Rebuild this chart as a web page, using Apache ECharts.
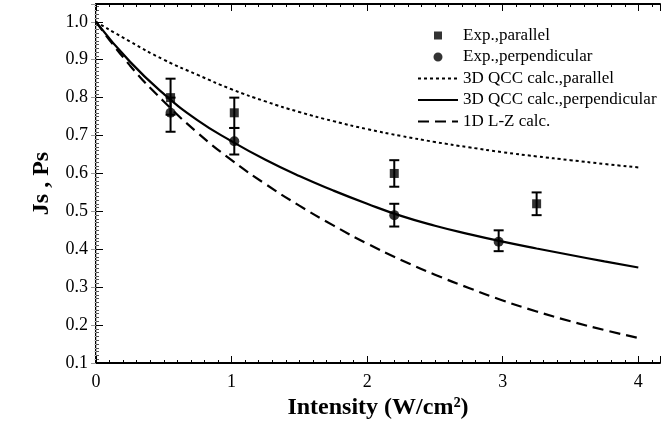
<!DOCTYPE html>
<html><head><meta charset="utf-8">
<script src="https://cdn.jsdelivr.net/npm/echarts@6/dist/echarts.min.js"></script>
<style>html,body{margin:0;padding:0;background:#fff}#c{width:663px;height:435px}</style>
</head><body><div id="c"></div>
<script>
// ---- data ----
const xTicks = [0, 1, 2, 3, 4];
const yTicks = [0.1, 0.2, 0.3, 0.4, 0.5, 0.6, 0.7, 0.8, 0.9, 1.0];
const parX = [0.55, 1.02, 2.2, 3.25];
const parY = [0.80, 0.76, 0.60, 0.52];
const parLo = [0.755, 0.72, 0.565, 0.49];
const parHi = [0.85, 0.80, 0.635, 0.55];
const perpX = [0.55, 1.02, 2.2, 2.97];
const perpY = [0.76, 0.685, 0.49, 0.42];
const perpLo = [0.71, 0.65, 0.46, 0.395];
const perpHi = [0.80, 0.72, 0.52, 0.45];
const curveX = [0, 0.25, 0.5, 0.75, 1, 1.25, 1.5, 1.75, 2, 2.25, 2.5, 2.75, 3, 3.25, 3.5, 3.75, 4];
const qccPar = [1.0, 0.948, 0.9, 0.86, 0.822, 0.79, 0.762, 0.738, 0.717, 0.699, 0.683, 0.669, 0.656, 0.645, 0.635, 0.625, 0.616];
const qccPerp = [1.0, 0.895, 0.81, 0.74, 0.685, 0.636, 0.593, 0.555, 0.52, 0.488, 0.462, 0.44, 0.42, 0.402, 0.385, 0.368, 0.352];
const lz1d = [1.0, 0.885, 0.79, 0.707, 0.635, 0.572, 0.515, 0.463, 0.415, 0.372, 0.333, 0.298, 0.265, 0.236, 0.21, 0.187, 0.166];
const names = ['Exp.,parallel', 'Exp.,perpendicular', '3D QCC calc.,parallel', '3D QCC calc.,perpendicular', '1D L-Z calc.'];

const FONT = 'Liberation Serif, Times New Roman, serif';
const zip = (a, b) => a.map((v, i) => [v, b[i]]);
const zip3 = (a, b, c) => a.map((v, i) => [v, b[i], c[i]]);
const isTick = (v, arr) => arr.some(t => Math.abs(t - v) < 1e-6);

// legend icon paths: tiny corner dots fix the 40x14 box, the mark sits inside
const BOX = 'M0,0h0.01v0.01h-0.01z M40,14h-0.01v-0.01h0.01z ';
const ICON_SQ = 'path://' + BOX + 'M16,3h8v8h-8z';
const ICON_CI = 'path://' + BOX + 'M15.5,7a4.5,4.5 0 1,0 9,0a4.5,4.5 0 1,0 -9,0z';

function errRender(params, api) {
  const x = api.value(0), lo = api.value(1), hi = api.value(2);
  const p1 = api.coord([x, lo]), p2 = api.coord([x, hi]);
  const w = 5;
  const st = { stroke: '#000', lineWidth: 2 };
  return { type: 'group', children: [
    { type: 'line', shape: { x1: p1[0], y1: p1[1], x2: p2[0], y2: p2[1] }, style: st },
    { type: 'line', shape: { x1: p1[0] - w, y1: p1[1], x2: p1[0] + w, y2: p1[1] }, style: st },
    { type: 'line', shape: { x1: p2[0] - w, y1: p2[1], x2: p2[0] + w, y2: p2[1] }, style: st }
  ]};
}

const chart = echarts.init(document.getElementById('c'), null, { renderer: 'canvas' });
const axisCommon = {
  axisLine: { show: true, lineStyle: { color: '#000', width: 2 } },
  splitLine: { show: false }
};
chart.setOption({
  animation: false,
  backgroundColor: '#fff',
  textStyle: { fontFamily: FONT },
  grid: { left: 96, right: 2, top: 4, bottom: 72, containLabel: false },
  legend: {
    orient: 'vertical', left: 412, top: 22, itemGap: 4.5, itemWidth: 40, itemHeight: 14,
    data: [
      { name: names[0], icon: ICON_SQ },
      { name: names[1], icon: ICON_CI },
      { name: names[2], itemStyle: { opacity: 0 } },
      { name: names[3], itemStyle: { opacity: 0 } },
      { name: names[4], itemStyle: { opacity: 0 } }
    ],
    textStyle: { fontFamily: FONT, fontSize: 17, color: '#000' }
  },
  xAxis: [{
    type: 'value', min: 0, max: 4.16, interval: 1, position: 'bottom',
    ...axisCommon,
    axisTick: { show: true, inside: true, length: 7, lineStyle: { color: '#000', width: 1 } },
    minorTick: { show: true, splitNumber: 10, length: 3, lineStyle: { color: '#000' } },
    axisLabel: { color: '#000', fontSize: 18, fontFamily: FONT, margin: 10,
      formatter: v => isTick(v, xTicks) ? String(v) : '' },
    name: 'Intensity (W/cm²)', nameLocation: 'middle', nameGap: 32,
    nameTextStyle: { fontFamily: FONT, fontSize: 24, fontWeight: 'bold', color: '#000' }
  }, {
    type: 'value', min: 0, max: 4.16, interval: 1, position: 'top',
    ...axisCommon,
    axisTick: { show: true, inside: true, length: 7, lineStyle: { color: '#000', width: 1 } },
    minorTick: { show: true, splitNumber: 10, length: 3, lineStyle: { color: '#000' } },
    axisLabel: { show: false }
  }],
  yAxis: [{
    type: 'value', min: 0.1, max: 1.047, interval: 0.1, position: 'left',
    ...axisCommon,
    axisTick: { show: true, inside: true, length: 7, lineStyle: { color: '#000', width: 1 } },
    minorTick: { show: true, splitNumber: 10, length: 3, lineStyle: { color: '#555' } },
    axisLabel: { color: '#000', fontSize: 18, fontFamily: FONT, margin: 8,
      formatter: v => isTick(v, yTicks) ? v.toFixed(1) : '' },
    name: 'Js , Ps', nameLocation: 'middle', nameGap: 42, nameRotate: 90,
    nameTextStyle: { fontFamily: FONT, fontSize: 24, fontWeight: 'bold', color: '#000' }
  }, {
    type: 'value', min: 0.1, max: 1.047, interval: 0.1, position: 'right',
    axisLine: { show: true, lineStyle: { color: '#bbb', width: 1 } },
    splitLine: { show: false },
    axisTick: { show: true, inside: true, length: 5, lineStyle: { color: '#999' } },
    minorTick: { show: true, splitNumber: 10, length: 2, lineStyle: { color: '#ccc' } },
    axisLabel: { show: false }
  }],
  series: [
    { name: names[2], type: 'line', data: zip(curveX, qccPar), smooth: true, symbol: 'none',
      lineStyle: { color: '#000', width: 2, type: [3, 3] }, itemStyle: { color: '#000' } },
    { name: names[3], type: 'line', data: zip(curveX, qccPerp), smooth: true, symbol: 'none',
      lineStyle: { color: '#000', width: 2.2, type: 'solid' }, itemStyle: { color: '#000' } },
    { name: names[4], type: 'line', data: zip(curveX, lz1d), smooth: true, symbol: 'none',
      lineStyle: { color: '#000', width: 2.2, type: [11, 6] }, itemStyle: { color: '#000' } },
    { name: 'errPar', type: 'custom', renderItem: errRender, data: zip3(parX, parLo, parHi), z: 3 },
    { name: 'errPerp', type: 'custom', renderItem: errRender, data: zip3(perpX, perpLo, perpHi), z: 3 },
    { name: names[0], type: 'scatter', data: zip(parX, parY), symbol: 'rect', symbolSize: 9,
      itemStyle: { color: '#000' }, z: 5 },
    { name: names[1], type: 'scatter', data: zip(perpX, perpY), symbol: 'circle', symbolSize: 10,
      itemStyle: { color: '#000' }, z: 5 }
  ]
});
</script></body></html>
